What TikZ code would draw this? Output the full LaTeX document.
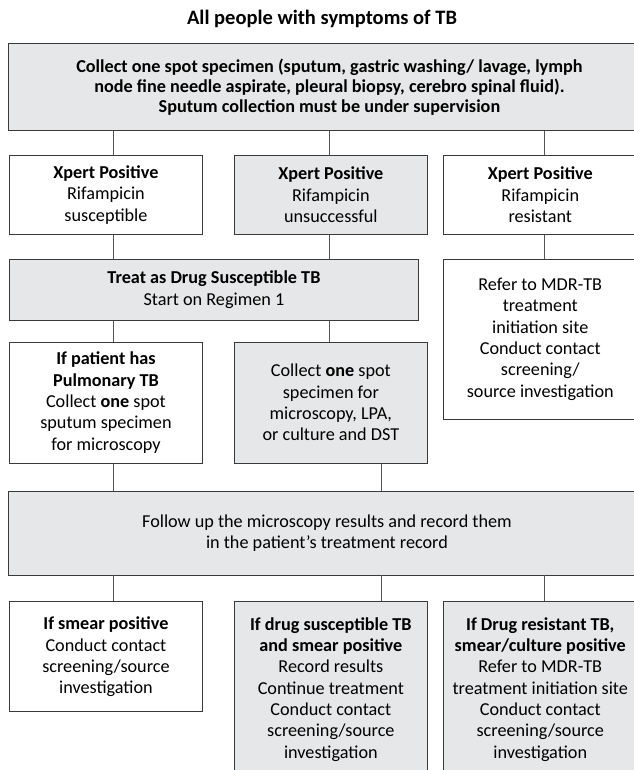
\documentclass[tikz,border=0pt]{standalone}
\usepackage{fontspec}
\setmainfont{Carlito}
\usepackage{xcolor}
\usepackage{tikz}
\usetikzlibrary{positioning}

\definecolor{boxgrey}{HTML}{E6E7E8}
\definecolor{edgegrey}{HTML}{3A3A3A}
\definecolor{linegrey}{HTML}{555555}

\begin{document}
\begin{tikzpicture}[
        x=1pt, y=1pt,
        font=\fontsize{18.2}{21.3}\selectfont,
        whitebox/.style={draw=edgegrey, line width=0.9pt, fill=white, align=center, inner sep=0pt, minimum width=193pt},
        greybox/.style={whitebox, fill=boxgrey},
        link/.style={draw=linegrey, line width=0.8pt}
    ]
    \useasboundingbox (0,0) rectangle (633,770);

    % TITLE
    \node[font=\fontsize{20.5}{24}\selectfont\bfseries] (title) at (322,751) {All people with symptoms of TB};

    % SPECIMEN COLLECTION
    \node[greybox, anchor=north west, minimum width=642pt, minimum height=87pt,
          font=\fontsize{18.2}{20}\selectfont\bfseries] (spec) at (8,727)
        {Collect one spot specimen (sputum, gastric washing/ lavage, lymph\\
         node fine needle aspirate, pleural biopsy, cerebro spinal fluid).\\
         Sputum collection must be under supervision};

    % XPERT RESULTS
    \node[whitebox, minimum height=79pt, below right=24pt and 1pt of spec.south west] (xpos1)
        {\textbf{Xpert Positive}\\ Rifampicin\\ susceptible};
    \node[greybox, minimum height=79pt, right=31pt of xpos1] (xpos2)
        {\textbf{Xpert Positive}\\ Rifampicin\\ unsuccessful};
    \node[whitebox, minimum height=79pt, minimum width=194pt, right=15pt of xpos2] (xpos3)
        {\textbf{Xpert Positive}\\ Rifampicin\\ resistant};

    % TREATMENT / REFERRAL
    \node[greybox, minimum width=409pt, minimum height=61pt, below right=24pt and 0pt of xpos1.south west] (treat)
        {\textbf{Treat as Drug Susceptible TB}\\ Start on Regimen 1};
    \node[whitebox, minimum width=194pt, minimum height=160pt, below=24pt of xpos3] (mdr)
        {Refer to MDR-TB\\ treatment\\ initiation site\\ Conduct contact\\ screening/\\ source investigation};

    % FOLLOW-UP SPECIMENS
    \node[whitebox, minimum height=121pt, below right=21pt and 0pt of treat.south west] (ifpulm)
        {\textbf{If patient has}\\ \textbf{Pulmonary TB}\\ Collect \textbf{one} spot\\ sputum specimen\\ for microscopy};
    \node[greybox, minimum height=121pt, right=31pt of ifpulm] (collect)
        {Collect \textbf{one} spot\\ specimen for\\ microscopy, LPA,\\ or culture and DST};

    \node[greybox, minimum width=637pt, minimum height=84pt, below right=27pt and -1pt of ifpulm.south west] (follow)
        {Follow up the microscopy results and record them\\ in the patient’s treatment record};

    % OUTCOMES
    \node[whitebox, minimum height=110pt, below right=26pt and 1pt of follow.south west] (smear)
        {\textbf{If smear positive}\\ Conduct contact\\ screening/source\\ investigation};
    \node[greybox, minimum height=175pt, right=31pt of smear.north east, anchor=north west] (dsusc)
        {\textbf{If drug susceptible TB}\\ \textbf{and smear positive}\\ Record results\\ Continue treatment\\
         Conduct contact\\ screening/source\\ investigation};
    \node[greybox, minimum width=194pt, minimum height=175pt, right=15pt of dsusc] (dresist)
        {\textbf{If Drug resistant TB,}\\ \textbf{smear/culture positive}\\ Refer to MDR-TB\\ treatment initiation site\\
         Conduct contact\\ screening/source\\ investigation};

    % CONNECTORS
    \coordinate (colA) at (113,0);
    \coordinate (colB) at (329,0);
    \coordinate (colC) at (544,0);
    \coordinate (colD) at (381,0);

    \draw[link] (spec.south -| colA) -- (xpos1.north -| colA);
    \draw[link] (spec.south -| colB) -- (xpos2.north -| colB);
    \draw[link] (spec.south -| colC) -- (xpos3.north -| colC);

    \draw[link] (xpos1.south -| colA) -- (treat.north -| colA);
    \draw[link] (xpos2.south -| colB) -- (treat.north -| colB);
    \draw[link] (xpos3.south -| colC) -- (mdr.north -| colC);

    \draw[link] (treat.south -| colA) -- (ifpulm.north -| colA);
    \draw[link] (treat.south -| colB) -- (collect.north -| colB);

    \draw[link] (ifpulm.south -| colA) -- (follow.north -| colA);
    \draw[link] (collect.south -| colD) -- (follow.north -| colD);

    \draw[link] (follow.south -| colA) -- (smear.north -| colA);
    \draw[link] (follow.south -| colD) -- (dsusc.north -| colD);
    \draw[link] (follow.south -| colC) -- (dresist.north -| colC);

\end{tikzpicture}
\end{document}
